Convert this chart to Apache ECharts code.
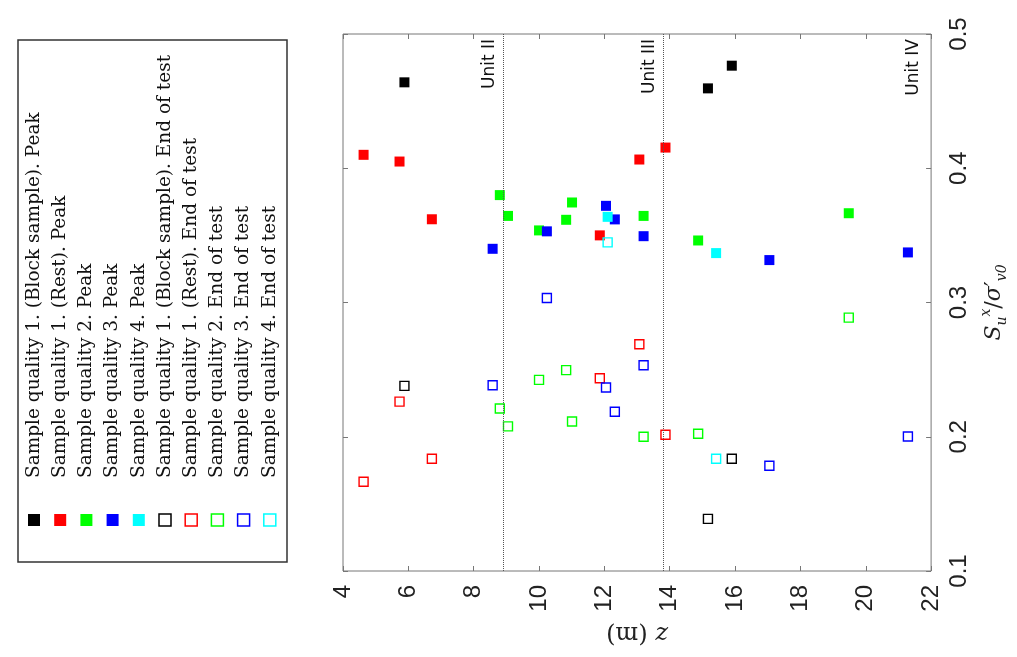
<!DOCTYPE html>
<html>
<head>
<meta charset="utf-8">
<script src="https://cdn.jsdelivr.net/npm/echarts@6/dist/echarts.min.js"></script>
<style>
  html, body { margin: 0; padding: 0; background: #fff; }
  #chart { width: 1017px; height: 657px; }
</style>
</head>
<body>
<div id="chart"></div>
<script>
// depths (m) of each sample group; peak and end-of-test share the same depth
const zQ1Block = [5.88, 15.17, 15.90];
const zQ1Rest = [4.63, 5.73, 6.72, 11.86, 13.07, 13.87];
const zQ2 = [8.80, 9.05, 10.00, 10.83, 11.01, 13.20, 14.87, 19.48];
const zQ3 = [8.58, 10.24, 12.05, 12.32, 13.20, 17.05, 21.29];
const zQ4 = [12.10, 15.42];

const peakQ1Block = [0.464, 0.4595, 0.4764];
const peakQ1Rest = [0.410, 0.405, 0.362, 0.350, 0.4065, 0.4154];
const peakQ2 = [0.380, 0.3645, 0.3537, 0.3616, 0.3745, 0.3645, 0.3462, 0.3665];
const peakQ3 = [0.340, 0.353, 0.372, 0.3619, 0.3494, 0.3316, 0.3373];
const peakQ4 = [0.3638, 0.3368];

const endQ1Block = [0.2379, 0.1388, 0.1836];
const endQ1Rest = [0.1665, 0.2262, 0.1836, 0.2436, 0.2689, 0.2015];
const endQ2 = [0.221, 0.2077, 0.2424, 0.2496, 0.2114, 0.200, 0.2022, 0.2887];
const endQ3 = [0.2384, 0.3034, 0.2367, 0.2186, 0.2533, 0.1784, 0.2002];
const endQ4 = [0.3448, 0.1836];

const seriesNames = [
  'Sample quality 1. (Block sample). Peak',
  'Sample quality 1. (Rest). Peak',
  'Sample quality 2. Peak',
  'Sample quality 3. Peak',
  'Sample quality 4. Peak',
  'Sample quality 1. (Block sample). End of test',
  'Sample quality 1. (Rest). End of test',
  'Sample quality 2. End of test',
  'Sample quality 3. End of test',
  'Sample quality 4. End of test'
];
const seriesColors = ['#000000', '#ff0000', '#00ff00', '#0000ff', '#00ffff',
  '#000000', '#ff0000', '#00ff00', '#0000ff', '#00ffff'];
const seriesFilled = [true, true, true, true, true, false, false, false, false, false];
const seriesZ = [zQ1Block, zQ1Rest, zQ2, zQ3, zQ4, zQ1Block, zQ1Rest, zQ2, zQ3, zQ4];
const seriesS = [peakQ1Block, peakQ1Rest, peakQ2, peakQ3, peakQ4,
  endQ1Block, endQ1Rest, endQ2, endQ3, endQ4];

const unitNames = ['Unit II', 'Unit III', 'Unit IV'];
const unitDepths = [8.9, 13.8, 21.88];
const unitLineShown = [true, true, false];

initChart();

function initChart() {
  const dom = document.getElementById('chart');
  const myChart = echarts.init(dom);

  const series = seriesNames.map((name, i) => {
    const data = seriesZ[i].map((z, k) => [z, seriesS[i][k]]);
    const s = {
      name: name,
      type: 'scatter',
      symbol: 'rect',
      symbolSize: seriesFilled[i] ? 10 : 9,
      data: data,
      itemStyle: seriesFilled[i]
        ? { color: seriesColors[i], opacity: 1 }
        : { color: 'rgba(255,255,255,0)', borderColor: seriesColors[i], borderWidth: 1.4, opacity: 1 }
    };
    return s;
  });

  series[0].markLine = {
    silent: true,
    symbol: 'none',
    animation: false,
    lineStyle: { type: 'dotted', color: '#555', width: 1 },
    label: {
      position: 'insideEndTop',
      formatter: '{b}',
      fontFamily: 'DejaVu Sans',
      fontSize: 17,
      color: '#111'
    },
    data: unitNames.map((n, i) => {
      const item = { name: n, xAxis: unitDepths[i] };
      if (!unitLineShown[i]) item.lineStyle = { color: 'rgba(0,0,0,0)' };
      return item;
    })
  };

  // legend box drawn by hand, the original is rotated 90 degrees
  const legend = [];
  legend.push({
    type: 'rect',
    shape: { x: 18, y: 40, width: 269, height: 522 },
    style: { fill: '#fff', stroke: '#333', lineWidth: 1.5 }
  });
  seriesNames.forEach((name, i) => {
    const cx = 34 + i * 26.2;
    legend.push({
      type: 'rect',
      shape: { x: cx - 6, y: 514, width: 12, height: 12 },
      style: seriesFilled[i]
        ? { fill: seriesColors[i] }
        : { fill: '#fff', stroke: seriesColors[i], lineWidth: 1.5 }
    });
    legend.push({
      type: 'text',
      x: cx,
      y: 478,
      rotation: Math.PI / 2,
      style: {
        text: name,
        fontFamily: 'DejaVu Serif',
        fontSize: 18.5,
        fill: '#111',
        align: 'left',
        textAlign: 'left',
        verticalAlign: 'middle',
        textVerticalAlign: 'middle'
      }
    });
  });

  const tickFont = { fontFamily: 'Liberation Sans', fontSize: 24, color: '#222' };

  const option = {
    animation: false,
    backgroundColor: '#fff',
    grid: {
      left: 343, top: 34, width: 594, height: 537,
      show: true, borderColor: '#777', borderWidth: 1
    },
    xAxis: [{
      type: 'value', position: 'bottom', min: 4, max: 22, interval: 2,
      axisLine: { show: false },
      axisTick: { inside: true, length: 5, lineStyle: { color: '#777' } },
      axisLabel: Object.assign({ rotate: 90, margin: 14 }, tickFont),
      splitLine: { show: false },
      name: '{i|z} (m)',
      nameLocation: 'middle',
      nameRotate: 180,
      nameGap: 50,
      nameTextStyle: {
        fontFamily: 'DejaVu Serif', fontSize: 24, color: '#222',
        rich: { i: { fontFamily: 'DejaVu Serif', fontStyle: 'italic', fontSize: 24 } }
      }
    }, {
      type: 'value', position: 'top', min: 4, max: 22, interval: 2,
      axisLine: { show: false },
      axisTick: { inside: true, length: 5, lineStyle: { color: '#777' } },
      axisLabel: { show: false },
      splitLine: { show: false }
    }],
    yAxis: [{
      type: 'value', position: 'right', min: 0.1, max: 0.5, interval: 0.1,
      axisLine: { show: false },
      axisTick: { inside: true, length: 5, lineStyle: { color: '#777' } },
      axisLabel: Object.assign({ rotate: 90, margin: 16, formatter: v => v.toFixed(1) }, tickFont),
      splitLine: { show: false },
      name: '{i|S}{sub|u}{sup|x}/{i|σ}′{sub|v0}',
      nameLocation: 'middle',
      nameRotate: 90,
      nameGap: 40,
      nameTextStyle: {
        fontFamily: 'DejaVu Serif', fontSize: 22, color: '#222',
        rich: {
          i: { fontFamily: 'DejaVu Serif', fontStyle: 'italic', fontSize: 22, lineHeight: 30 },
          sub: { fontFamily: 'DejaVu Serif', fontStyle: 'italic', fontSize: 14, lineHeight: 30, verticalAlign: 'bottom' },
          sup: { fontFamily: 'DejaVu Serif', fontStyle: 'italic', fontSize: 14, lineHeight: 30, verticalAlign: 'top' }
        }
      }
    }, {
      type: 'value', position: 'left', min: 0.1, max: 0.5, interval: 0.1,
      axisLine: { show: false },
      axisTick: { inside: true, length: 5, lineStyle: { color: '#777' } },
      axisLabel: { show: false },
      splitLine: { show: false }
    }],
    graphic: { elements: legend },
    series: series
  };

  myChart.setOption(option, true);
}
</script>
</body>
</html>
